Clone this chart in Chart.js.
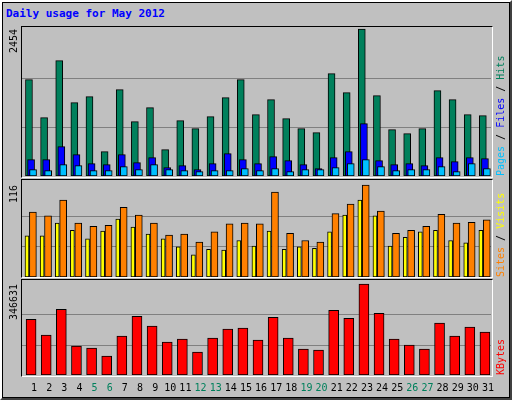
<!DOCTYPE html>
<html><head><meta charset="utf-8">
<script src="https://cdn.jsdelivr.net/npm/chart.js@4"></script>
<style>
html,body{margin:0;padding:0;background:#c0c0c0;}
#wrap{position:absolute;left:0;top:0;width:508px;height:396px;background:#c0c0c0;border:2px solid;border-color:#ffffff #404040 #404040 #ffffff;box-shadow:inset 0 0 0 1px #000;}
canvas{position:absolute;left:0;}
.frame{position:absolute;border-top:1px solid #000;border-left:1px solid #000;border-right:1px solid #fff;border-bottom:1px solid #fff;box-sizing:border-box;}
#title{position:absolute;left:6px;top:7px;font:bold 11px "DejaVu Sans Mono",monospace;color:#0000ff;}
</style></head><body>
<div id="wrap"></div>
<div id="title">Daily usage for May 2012</div>
<div class="frame" style="left:21px;top:26px;width:472px;height:152px"></div>
<div class="frame" style="left:21px;top:179px;width:472px;height:99px"></div>
<div class="frame" style="left:21px;top:279px;width:472px;height:98px"></div>
<canvas id="c1" width="512" height="149" style="top:27px"></canvas>
<canvas id="c2" width="512" height="96" style="top:181px"></canvas>
<canvas id="c3" width="512" height="118" style="top:281px"></canvas>
<script>
const days = Array.from({length:31},(_,i)=>String(i+1));
const weekendDays = [5,6,12,13,19,20,26,27];
const hits  = [1608,974,1925,1224,1324,406,1441,907,1141,440,924,790,990,1308,1608,1024,1274,957,790,723,1708,1391,2454,1341,773,707,790,1425,1274,1024,1007];
const files = [273,273,490,356,206,189,356,223,306,139,173,106,206,373,273,206,323,256,189,122,306,406,874,256,189,206,173,306,239,306,289];
const pages = [106,89,189,173,89,89,156,106,189,106,89,72,89,89,122,89,122,72,106,106,139,206,273,156,89,106,106,156,72,206,122];
const visits= [82,77,97,68,64,65,88,78,68,53,54,44,57,67,68,67,107,55,46,44,80,92,116,83,55,59,64,79,68,69,72];
const sites = [52,52,68,59,48,58,73,63,54,48,38,28,35,34,46,39,58,35,38,36,57,78,97,77,39,50,57,59,46,43,59];
const kbytes= [212520,151800,250470,110055,102465,72105,148005,223905,185955,125235,136620,87285,140415,174570,178365,132825,220110,140415,98670,94875,246675,216315,346631,235290,136620,113850,98670,197340,148005,182160,163185];

const FONT='"DejaVu Sans Mono",monospace';
function ds(arr,off,color,w,order){
  return {data:arr.map((v,i)=>({x:i+1+off,y:v})),backgroundColor:color,borderColor:'#000',borderWidth:1,barThickness:w,order:order,borderSkipped:false};
}
function panel(id,datasets,maxVal,topPad,legend,extraBottom,drawDays){
  const plug={id:'p'+id,
    beforeDatasetsDraw(ch){
      const c=ch.ctx,a=ch.chartArea,y=ch.scales.y;
      c.save();c.strokeStyle='#808080';c.lineWidth=1;
      for(let k=1;k<=2;k++){const py=Math.round(y.getPixelForValue(maxVal*k/3))+0.5;c.beginPath();c.moveTo(a.left,py);c.lineTo(a.right,py);c.stroke();}
      c.restore();
    },
    afterDraw(ch){
      const c=ch.ctx,a=ch.chartArea,y=ch.scales.y,x=ch.scales.x;
      c.save();c.font='10px '+FONT;c.fillStyle='#000';
      c.translate(17,y.getPixelForValue(maxVal));c.rotate(-Math.PI/2);c.textAlign='right';c.textBaseline='alphabetic';
      c.fillText(String(maxVal),0,0);c.restore();
      c.save();c.font='10px '+FONT;c.translate(504,a.bottom);c.rotate(-Math.PI/2);c.textBaseline='alphabetic';
      let px=0;for(const [t,col] of legend){c.fillStyle=col;c.fillText(t,px,0);px+=c.measureText(t).width;}
      c.restore();
      if(drawDays){c.save();c.font='10px '+FONT;c.textAlign='center';c.textBaseline='middle';
        days.forEach((d,i)=>{c.fillStyle=weekendDays.includes(i+1)?'#00805c':'#000';c.fillText(d,x.getPixelForValue(i+1.3),a.bottom+13);});
        c.restore();}
    }};
  return new Chart(document.getElementById(id),{type:'bar',data:{datasets},
    options:{responsive:false,devicePixelRatio:1,animation:false,
      layout:{padding:{left:22,right:21,top:0,bottom:extraBottom}},
      plugins:{legend:{display:false},tooltip:{enabled:false}},
      datasets:{bar:{grouped:false}},
      scales:{x:{type:'linear',min:0.5,max:31.5,offset:false,display:false},
              y:{min:0,max:maxVal*topPad,display:false}}},
    plugins:[plug]});
}
const maxH=Math.max(...hits),maxV=Math.max(...visits),maxK=Math.max(...kbytes);
panel('c1',[ds(hits,-0.04,'#00805c',7,3),ds(files,0.1,'#0000ff',7,2),ds(pages,0.23,'#00c0ff',7,1)],maxH,149/147,
  [['Pages','#00c0ff'],[' / ','#000'],['Files','#0000ff'],[' / ','#000'],['Hits','#00805c']],0,false);
panel('c2',[ds(sites,-0.17,'#ffff00',4,1),ds(visits,0.22,'#ff8000',7,2)],maxV,96/92,
  [['Sites','#ff8000'],[' / ','#000'],['Visits','#ffff00']],0,false);
panel('c3',[ds(kbytes,0.1,'#ff0000',10,1)],maxK,94/91,[['KBytes','#ff0000']],24,true);
</script></body></html>
